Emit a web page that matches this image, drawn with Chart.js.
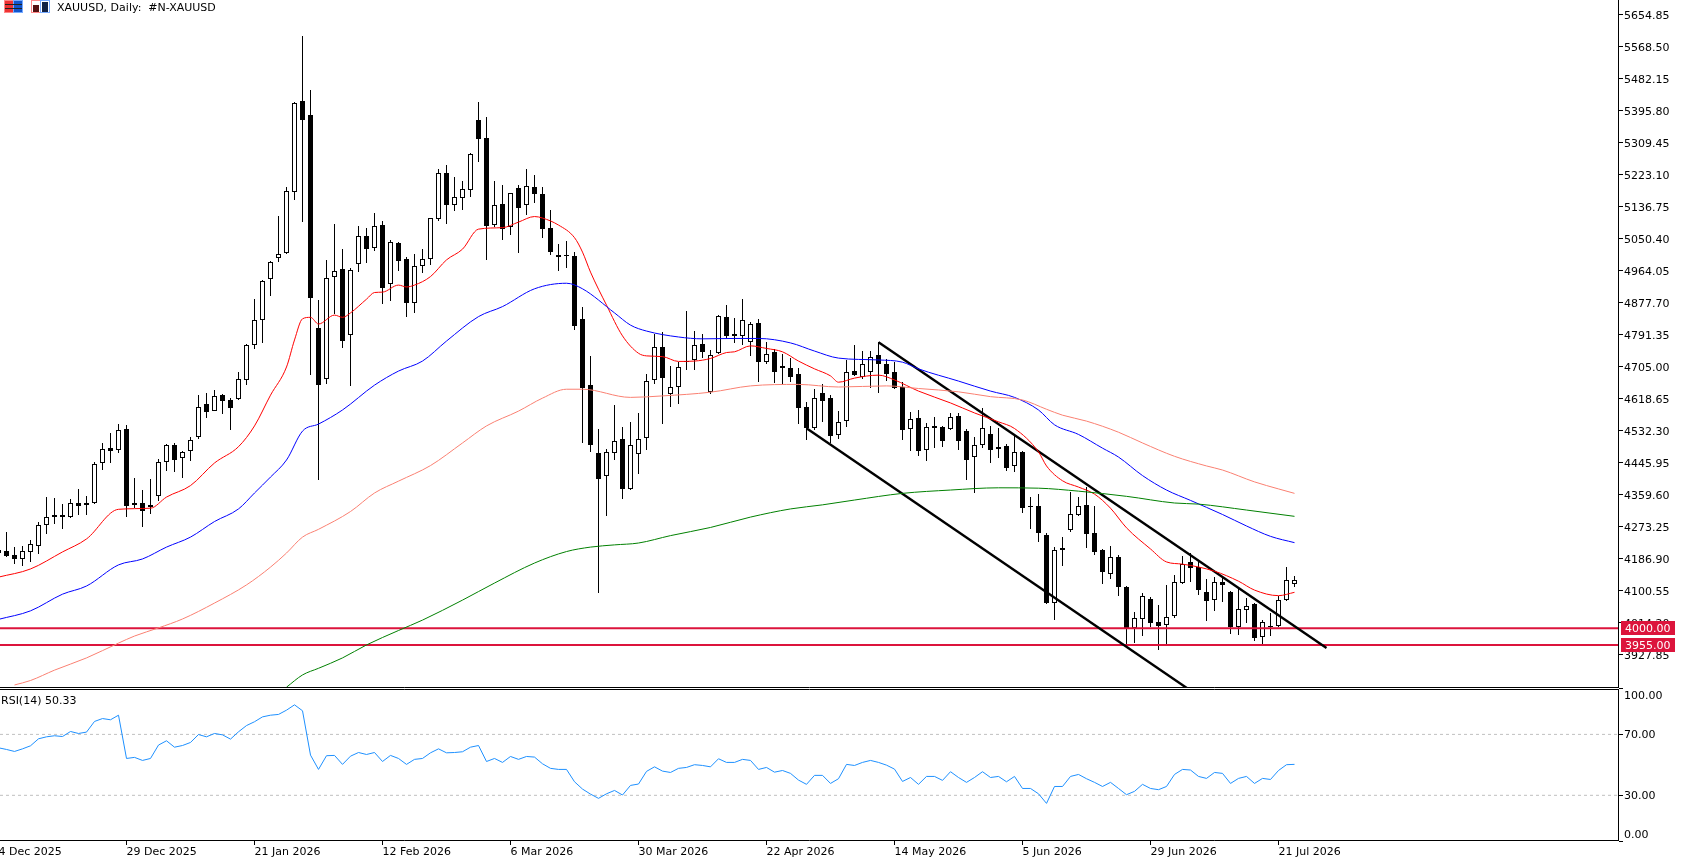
<!DOCTYPE html>
<html lang="en">

<head>
    <meta charset="utf-8">
    <title>XAUUSD, Daily</title>
    <script src="https://cdn.jsdelivr.net/npm/chart.js"></script>
    <style>
        html, body { margin: 0; padding: 0; background: #fff; overflow: hidden; }
        body { width: 1682px; height: 860px; position: relative; font: 11px "DejaVu Sans", sans-serif; color: #000; }
        canvas { position: absolute; left: 0; }
        #priceChart { top: 0; }
        #rsiChart { top: 688px; }
        .label { position: absolute; white-space: pre; line-height: 13px; }
        .icons { position: absolute; left: 4px; top: 0; }
    </style>
</head>

<body>
    <canvas id="priceChart" width="1682" height="688"></canvas>
    <canvas id="rsiChart" width="1682" height="172"></canvas>

    <svg class="icons" width="48" height="14">
        <rect x="0.5" y="0.5" width="9" height="12" fill="#e33" stroke="#f88"/>
        <rect x="9.5" y="0.5" width="9" height="12" fill="#15c" stroke="#7af"/>
        <path d="M1 4.5h17M1 8.5h17" stroke="#222"/>
        <rect x="27.5" y="0.5" width="9" height="12" fill="#fff" stroke="#f88"/>
        <rect x="36.5" y="0.5" width="9" height="12" fill="#fff" stroke="#7af"/>
        <rect x="29" y="5" width="6" height="7" fill="#511"/>
        <rect x="38" y="2" width="6" height="10" fill="#124"/>
    </svg>
    <div class="label" style="left:57px;top:1px">XAUUSD, Daily:  #N-XAUUSD</div>
    <div class="label" style="left:1px;top:694px">RSI(14) 50.33</div>

    <script>
        // Daily candles, one value per bar, oldest first
        const opens = [
            4211, 4208, 4198, 4187, 4206, 4222, 4279, 4300, 4306, 4300,
            4338, 4333, 4338, 4446, 4486, 4481, 4538, 4338, 4338, 4333,
            4357, 4449, 4494, 4459, 4478, 4516, 4605, 4586, 4629, 4616,
            4619, 4670, 4764, 4832, 4942, 4999, 5013, 5177, 5423, 5385,
            4810, 4672, 4948, 4969, 4791, 4983, 5059, 5026, 5088, 4929,
            5040, 4996, 4878, 4977, 4996, 5104, 5229, 5142, 5161, 5183,
            5372, 5323, 5088, 5145, 5083, 5188, 5142, 5191, 5172, 5080,
            5002, 5007, 5004, 4835, 4656, 4473, 4411, 4473, 4511, 4376,
            4470, 4513, 4670, 4759, 4632, 4651, 4721, 4724, 4767, 4637,
            4743, 4840, 4794, 4789, 4772, 4824, 4718, 4745, 4702, 4702,
            4686, 4597, 4540, 4635, 4621, 4521, 4559, 4694, 4678, 4691,
            4737, 4713, 4691, 4651, 4538, 4567, 4481, 4546, 4543, 4538,
            4573, 4532, 4462, 4494, 4524, 4489, 4492, 4438, 4476, 4330,
            4330, 4252, 4068, 4217, 4265, 4306, 4333, 4257, 4211, 4146,
            4192, 4111, 4001, 4025, 4079, 4017, 4009, 4033, 4122, 4179,
            4165, 4098, 4076, 4125, 4098, 4003, 4049, 4065, 3976, 4003, 4006, 4076, 4119
        ];
        const highs = [
            4265, 4260, 4219, 4222, 4238, 4287, 4354, 4352, 4335, 4349,
            4376, 4357, 4449, 4500, 4527, 4551, 4549, 4405, 4373, 4403,
            4457, 4497, 4500, 4478, 4516, 4629, 4635, 4643, 4632, 4621,
            4691, 4767, 4888, 4940, 4991, 5112, 5191, 5420, 5598, 5452,
            4886, 4994, 5091, 5023, 4972, 5085, 5080, 5121, 5099, 5048,
            5042, 5002, 5010, 5023, 5107, 5239, 5250, 5218, 5207, 5282,
            5420, 5380, 5207, 5196, 5175, 5196, 5239, 5223, 5191, 5129,
            5037, 5045, 5015, 4867, 4735, 4538, 4484, 4602, 4543, 4557,
            4581, 4686, 4794, 4799, 4708, 4718, 4856, 4802, 4794, 4751,
            4845, 4872, 4837, 4888, 4826, 4835, 4772, 4754, 4740, 4729,
            4702, 4611, 4646, 4659, 4629, 4586, 4724, 4764, 4748, 4748,
            4772, 4726, 4718, 4664, 4584, 4589, 4554, 4570, 4546, 4581,
            4581, 4538, 4516, 4594, 4546, 4540, 4497, 4521, 4478, 4354,
            4362, 4257, 4219, 4246, 4368, 4354, 4381, 4330, 4214, 4222,
            4198, 4114, 4044, 4095, 4084, 4063, 4117, 4144, 4195, 4203,
            4179, 4133, 4138, 4138, 4100, 4106, 4082, 4068, 4022, 4041, 4087, 4165, 4141
        ];
        const lows = [
            4184, 4192, 4173, 4168, 4179, 4200, 4254, 4281, 4268, 4298,
            4306, 4306, 4335, 4427, 4446, 4473, 4300, 4324, 4273, 4308,
            4343, 4424, 4422, 4405, 4451, 4511, 4567, 4586, 4578, 4535,
            4616, 4656, 4754, 4770, 4897, 4988, 5010, 5156, 5096, 4683,
            4400, 4659, 4848, 4756, 4654, 4961, 4986, 5018, 4875, 4883,
            4964, 4840, 4851, 4959, 4980, 5099, 5091, 5126, 5129, 5164,
            5258, 4994, 5083, 5048, 5061, 5013, 5115, 5148, 5053, 5007,
            4964, 4972, 4805, 4500, 4476, 4095, 4303, 4454, 4349, 4373,
            4416, 4481, 4659, 4551, 4597, 4605, 4697, 4697, 4729, 4632,
            4740, 4783, 4770, 4764, 4735, 4664, 4713, 4662, 4659, 4664,
            4551, 4508, 4535, 4557, 4500, 4511, 4543, 4681, 4672, 4648,
            4635, 4667, 4646, 4508, 4478, 4465, 4451, 4486, 4489, 4535,
            4481, 4400, 4365, 4486, 4446, 4459, 4424, 4422, 4311, 4268,
            4233, 4065, 4022, 4168, 4260, 4303, 4217, 4198, 4119, 4133,
            4087, 3955, 3960, 3979, 4003, 3941, 3957, 4028, 4119, 4125,
            4090, 4020, 4047, 4071, 3984, 3982, 4014, 3966, 3957, 3979, 4003, 4074, 4111
        ];
        const closes = [
            4203, 4195, 4187, 4209, 4227, 4279, 4300, 4306, 4300, 4338,
            4330, 4338, 4443, 4484, 4478, 4535, 4330, 4333, 4317, 4327,
            4449, 4494, 4454, 4476, 4508, 4597, 4584, 4627, 4613, 4594,
            4672, 4764, 4832, 4937, 4988, 5010, 5180, 5417, 5372, 4891,
            4656, 4945, 4964, 4775, 4967, 5059, 5023, 5085, 4918, 5042,
            4991, 4878, 4977, 4996, 5107, 5229, 5142, 5164, 5185, 5280,
            5320, 5085, 5142, 5077, 5175, 5134, 5193, 5172, 5077, 5015,
            5007, 5004, 4816, 4648, 4494, 4403, 4476, 4505, 4376, 4494,
            4511, 4667, 4759, 4675, 4651, 4705, 4718, 4764, 4745, 4737,
            4842, 4789, 4789, 4832, 4821, 4718, 4740, 4691, 4708, 4678,
            4594, 4540, 4621, 4613, 4519, 4557, 4691, 4683, 4713, 4732,
            4713, 4686, 4648, 4535, 4565, 4478, 4543, 4540, 4505, 4570,
            4505, 4454, 4494, 4540, 4481, 4484, 4432, 4476, 4324, 4327,
            4257, 4068, 4211, 4211, 4308, 4330, 4254, 4206, 4152, 4192,
            4111, 3998, 4028, 4087, 4014, 4006, 4031, 4125, 4173, 4163,
            4103, 4074, 4125, 4117, 4003, 4052, 4060, 3974, 4017, 4006, 4076, 4130, 4130
        ];

        // Moving averages: bar numbers and the price at each of them
        const redBars = [0, 4, 8, 11, 15, 19, 21, 24, 27, 30, 32, 34, 36, 37, 38, 39, 40, 42, 43, 44, 46, 47, 48, 50, 51, 52, 54, 56, 58, 60, 63, 65, 67, 68, 70, 72, 73, 74, 76, 78, 80, 81, 83, 85, 87, 89, 91, 92, 94, 96, 98, 100, 102, 104, 105, 107, 110, 112, 115, 119, 122, 125, 127, 130, 131, 133, 135, 137, 139, 141, 144, 146, 148, 152, 155, 157, 160, 162];
        const redValues = [4138, 4160, 4206, 4241, 4321, 4324, 4354, 4385, 4446, 4490, 4546, 4629, 4705, 4778, 4835, 4839, 4821, 4845, 4839, 4851, 4888, 4906, 4907, 4926, 4921, 4926, 4949, 4994, 5023, 5077, 5081, 5096, 5111, 5107, 5088, 5054, 5015, 4961, 4872, 4789, 4742, 4735, 4733, 4720, 4721, 4728, 4744, 4746, 4762, 4755, 4746, 4721, 4700, 4681, 4664, 4675, 4683, 4670, 4640, 4608, 4581, 4557, 4539, 4476, 4438, 4398, 4381, 4362, 4324, 4271, 4214, 4179, 4173, 4154, 4127, 4103, 4088, 4097];

        const blueBars = [0, 4, 8, 11, 15, 18, 21, 24, 27, 30, 32, 34, 36, 38, 40, 43, 47, 50, 53, 56, 60, 63, 67, 71, 73, 77, 79, 81, 85, 88, 92, 95, 99, 102, 105, 110, 113, 115, 120, 124, 127, 130, 132, 135, 138, 140, 143, 146, 149, 153, 156, 159, 162];
        const blueValues = [4024, 4047, 4092, 4114, 4171, 4187, 4219, 4246, 4288, 4322, 4365, 4408, 4454, 4532, 4551, 4589, 4656, 4694, 4721, 4775, 4841, 4868, 4916, 4931, 4916, 4851, 4818, 4802, 4786, 4781, 4782, 4782, 4770, 4748, 4729, 4724, 4718, 4700, 4667, 4640, 4623, 4589, 4549, 4523, 4486, 4462, 4412, 4373, 4345, 4307, 4276, 4248, 4231];

        const salmonBars = [2, 4, 7, 11, 15, 17, 20, 23, 27, 31, 34, 36, 38, 40, 44, 47, 50, 54, 58, 61, 65, 68, 71, 73, 79, 83, 89, 94, 100, 105, 111, 115, 120, 124, 128, 131, 133, 136, 140, 143, 147, 151, 153, 157, 160, 162];
        const salmonValues = [3847, 3859, 3887, 3920, 3960, 3979, 4001, 4025, 4068, 4117, 4165, 4203, 4246, 4267, 4315, 4365, 4397, 4439, 4500, 4546, 4586, 4621, 4645, 4645, 4623, 4627, 4637, 4654, 4658, 4651, 4654, 4647, 4638, 4625, 4616, 4591, 4575, 4559, 4529, 4500, 4464, 4438, 4427, 4395, 4376, 4364];

        const greenBars = [36, 38, 40, 43, 46, 50, 53, 58, 62, 67, 71, 74, 77, 80, 84, 89, 94, 99, 103, 107, 113, 119, 125, 130, 135, 141, 147, 150, 156, 162];
        const greenValues = [3841, 3874, 3892, 3920, 3955, 3994, 4022, 4076, 4122, 4176, 4207, 4219, 4225, 4230, 4250, 4272, 4300, 4322, 4333, 4346, 4364, 4373, 4379, 4378, 4370, 4356, 4338, 4335, 4319, 4302];

        // Hand-drawn channel: start and end of each line
        const channelUpperBars = [110, 166];
        const channelUpperValues = [4772, 3947];
        const channelLowerBars = [101, 149];
        const channelLowerValues = [4540, 3832];

        const levels = [4000, 3955];
        const priceTicks = [5654.85, 5568.50, 5482.15, 5395.80, 5309.45, 5223.10, 5136.75, 5050.40, 4964.05, 4877.70, 4791.35, 4705.00, 4618.65, 4532.30, 4445.95, 4359.60, 4273.25, 4186.90, 4100.55, 4014.20, 3927.85];

        // Date labels sit on every 16th bar
        const dateTickBars = [0, 16, 32, 48, 64, 80, 96, 112, 128, 144, 160];
        const dateTickLabels = ['4 Dec 2025', '29 Dec 2025', '21 Jan 2026', '12 Feb 2026', '6 Mar 2026', '30 Mar 2026', '22 Apr 2026', '14 May 2026', '5 Jun 2026', '29 Jun 2026', '21 Jul 2026'];

        // RSI(14), one value per bar
        const rsiValues = [
            61.2, 60.1, 58.8, 60.5, 62.5, 67.1, 68.4, 69.1, 68.6, 71.9,
            70.6, 71.5, 78.5, 80.4, 79.6, 82.6, 54.2, 54.9, 52.9, 54.2,
            63.0, 65.8, 61.6, 62.7, 64.7, 69.9, 68.4, 70.6, 69.7, 66.9,
            71.7, 75.8, 78.3, 81.5, 82.6, 83.1, 85.9, 89.4, 85.5, 56.4,
            47.0, 56.0, 56.2, 50.3, 55.7, 58.1, 56.8, 58.1, 52.2, 56.2,
            54.2, 50.3, 53.6, 54.2, 57.9, 60.5, 57.9, 58.1, 58.6, 61.6,
            62.7, 52.2, 54.2, 51.6, 55.5, 53.6, 55.5, 55.1, 50.7, 47.7,
            47.0, 47.0, 38.9, 34.1, 30.8, 28.0, 31.0, 33.2, 30.2, 36.5,
            37.4, 45.7, 48.7, 45.9, 45.0, 47.7, 48.3, 50.1, 49.6, 48.7,
            54.0, 51.6, 51.6, 53.6, 52.9, 47.0, 48.3, 45.2, 46.3, 44.4,
            40.0, 37.2, 43.1, 43.1, 37.8, 40.9, 50.3, 49.6, 51.6, 52.9,
            51.6, 49.8, 47.2, 39.1, 41.7, 37.2, 42.4, 42.4, 39.8, 45.5,
            41.7, 38.5, 41.7, 45.5, 41.7, 42.4, 38.9, 42.4, 34.5, 34.5,
            31.0, 24.7, 35.8, 35.8, 42.4, 43.7, 40.9, 38.5, 35.8, 38.5,
            34.5, 30.4, 32.6, 37.2, 34.5, 33.7, 35.8, 43.7, 47.0, 46.6,
            42.4, 41.1, 45.0, 44.4, 37.8, 41.1, 42.4, 37.8, 41.1, 40.4, 46.3, 50.1, 50.33
        ];
        const rsiLevels = [70, 30];
        const rsiTicks = [100, 70, 30, 0];

        // Visible window of both panels, in bars and in price / RSI units
        const barMin = 0.1875;
        const barMax = 202.4375;
        const priceMin = 3841.5;
        const priceMax = 5695.3;
        const rsiMin = 0.66;
        const rsiMax = 99.8;

        const pairs = (xs, ys) => xs.map((x, i) => ({ x: x, y: ys[i] }));

        const lineSet = (data, color, width) => ({
            type: 'line',
            data: data,
            borderColor: color,
            borderWidth: width,
            pointRadius: 0,
            tension: 0,
            order: 1
        });

        // Moving averages are smooth curves through their points
        const maSet = (bars, values, color) => ({
            ...lineSet(pairs(bars, values), color, 1),
            cubicInterpolationMode: 'monotone'
        });

        // Floating bars land on whole pixels so candle edges stay sharp
        const snapBars = {
            id: 'snapBars',
            afterDatasetsUpdate(chart) {
                chart.data.datasets.forEach((ds, i) => {
                    if (ds.type !== 'bar') return;
                    chart.getDatasetMeta(i).data.forEach(el => {
                        el.y = Math.round(el.y);
                        el.base = Math.round(el.base);
                    });
                });
            }
        };

        // Crimson price tags on the axis for the two horizontal levels
        const levelTags = {
            id: 'levelTags',
            afterDraw(chart) {
                const ctx = chart.ctx;
                const y = chart.scales.y;
                ctx.save();
                ctx.font = '11px "DejaVu Sans"';
                ctx.textAlign = 'left';
                ctx.textBaseline = 'middle';
                levels.forEach(level => {
                    const py = Math.round(y.getPixelForValue(level));
                    ctx.fillStyle = '#DC143C';
                    ctx.fillRect(1621, py - 7, 54, 14);
                    ctx.fillStyle = '#fff';
                    ctx.fillText(level.toFixed(2), 1625, py + 1);
                });
                ctx.restore();
            }
        };

        // Top edge of the RSI panel
        const panelTop = {
            id: 'panelTop',
            afterDraw(chart) {
                const ctx = chart.ctx;
                const area = chart.chartArea;
                ctx.save();
                ctx.strokeStyle = '#000';
                ctx.lineWidth = 1;
                ctx.beginPath();
                ctx.moveTo(area.left, area.top + 0.5);
                ctx.lineTo(area.right + 1, area.top + 0.5);
                ctx.stroke();
                ctx.restore();
            }
        };

        const axisFont = { family: '"DejaVu Sans"', size: 11 };

        const priceYAxis = {
            position: 'right',
            min: priceMin,
            max: priceMax,
            stacked: false,
            afterBuildTicks: s => { s.ticks = priceTicks.map(v => ({ value: v })); },
            afterFit: s => { s.width = 64; s.paddingTop = 0; s.paddingBottom = 0; },
            border: { color: '#000' },
            grid: { drawOnChartArea: false, tickLength: 5, tickColor: '#000' },
            ticks: { autoSkip: false, padding: 1, labelOffset: 1, color: '#000', font: axisFont, callback: v => v.toFixed(2) }
        };

        new Chart(document.getElementById('priceChart'), {
            data: {
                datasets: [
                    {
                        type: 'bar',
                        data: lows.map((low, k) => ({ x: k, y: [low, highs[k]] })),
                        stack: 'candles',
                        barThickness: 1,
                        backgroundColor: '#000',
                        borderWidth: 0,
                        inflateAmount: 0,
                        order: 4
                    },
                    {
                        type: 'bar',
                        data: opens.map((open, k) => ({ x: k, y: [open, closes[k]] })),
                        stack: 'candles',
                        barThickness: 5,
                        backgroundColor: c => (closes[c.dataIndex] >= opens[c.dataIndex] ? '#fff' : '#000'),
                        borderColor: '#000',
                        borderWidth: 1,
                        borderSkipped: false,
                        inflateAmount: 0,
                        order: 3
                    },
                    maSet(salmonBars, salmonValues, '#FA8072'),
                    maSet(greenBars, greenValues, '#008000'),
                    maSet(blueBars, blueValues, '#0000FF'),
                    maSet(redBars, redValues, '#FF0000'),
                    lineSet(pairs(channelUpperBars, channelUpperValues), '#000', 2.4),
                    lineSet(pairs(channelLowerBars, channelLowerValues), '#000', 2.4),
                    ...levels.map(level => lineSet([{ x: barMin, y: level }, { x: barMax, y: level }], '#DC143C', 2))
                ]
            },
            options: {
                responsive: false,
                animation: false,
                devicePixelRatio: 1,
                layout: { padding: { bottom: 1 } },
                plugins: { legend: { display: false }, tooltip: { enabled: false } },
                scales: {
                    x: {
                        type: 'linear',
                        min: barMin,
                        max: barMax,
                        offset: false,
                        stacked: true,
                        afterFit: s => { s.height = 0; s.paddingLeft = 0; s.paddingRight = 0; },
                        border: { color: '#000' },
                        grid: { display: false, offset: false },
                        ticks: { display: false }
                    },
                    y: priceYAxis
                }
            },
            plugins: [snapBars, levelTags]
        });

        new Chart(document.getElementById('rsiChart'), {
            data: {
                datasets: [
                    lineSet(rsiValues.map((v, k) => ({ x: k, y: v })), '#1E90FF', 1),
                    ...rsiLevels.map(level => ({
                        ...lineSet([{ x: barMin, y: level }, { x: barMax, y: level }], '#C0C0C0', 1),
                        borderDash: [3, 3],
                        order: 2
                    }))
                ]
            },
            options: {
                responsive: false,
                animation: false,
                devicePixelRatio: 1,
                layout: { padding: { top: 1 } },
                plugins: { legend: { display: false }, tooltip: { enabled: false } },
                scales: {
                    x: {
                        type: 'linear',
                        min: barMin,
                        max: barMax,
                        afterBuildTicks: s => { s.ticks = dateTickBars.map(v => ({ value: v })); },
                        afterFit: s => { s.height = 20; s.paddingLeft = 0; s.paddingRight = 0; },
                        border: { color: '#000' },
                        grid: { drawOnChartArea: false, tickLength: 5, tickColor: '#000' },
                        ticks: {
                            autoSkip: false,
                            maxRotation: 0,
                            align: 'start',
                            padding: 1,
                            color: '#000',
                            font: axisFont,
                            callback: v => dateTickLabels[dateTickBars.indexOf(v)]
                        }
                    },
                    y: {
                        position: 'right',
                        min: rsiMin,
                        max: rsiMax,
                        afterBuildTicks: s => { s.ticks = rsiTicks.map(v => ({ value: v })); },
                        afterFit: s => { s.width = 64; s.paddingTop = 0; s.paddingBottom = 0; },
                        border: { color: '#000' },
                        grid: { drawOnChartArea: false, tickLength: 5, tickColor: '#000' },
                        ticks: {
                            autoSkip: false,
                            padding: 1,
                            labelOffset: 1,
                            color: '#000',
                            font: axisFont,
                            // The outermost labels sit just inside the panel
                            callback: v => {
                                const text = v.toFixed(2);
                                if (v === 100) return ['', text];
                                if (v === 0) return [text, ''];
                                return text;
                            }
                        }
                    }
                }
            },
            plugins: [panelTop]
        });
    </script>
</body>

</html>
